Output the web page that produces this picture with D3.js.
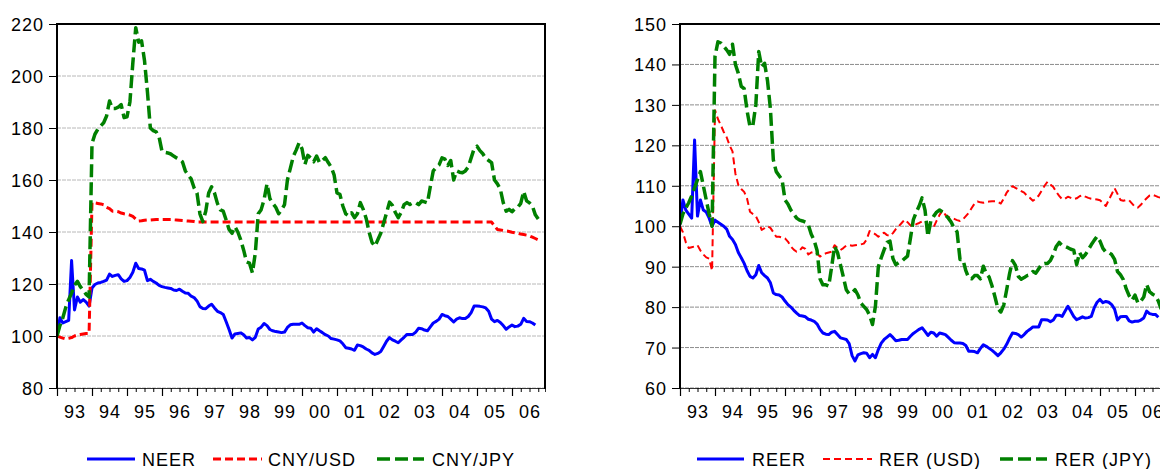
<!DOCTYPE html>
<html><head><meta charset="utf-8">
<script src="https://cdn.jsdelivr.net/npm/d3@7"></script>
<style>
body{margin:0;background:#fff;}
svg{display:block;}
text{font-family:"Liberation Sans",Arial,sans-serif;font-size:18px;letter-spacing:1px;fill:#000;}
</style></head><body><svg id="c" width="1160" height="469"></svg>
<script>
// Monthly data, first observation = January 1993
const startYear = 1993;
const yearLabels = ["93","94","95","96","97","98","99","00","01","02","03","04","05","06"];
const leftTicks = [80,100,120,140,160,180,200,220];
const rightTicks = [60,70,80,90,100,110,120,130,140,150];

const neer = [
100,107,105,105.5,106,129,110,115,113,114,113,111.5,
118.5,119.8,120.4,120.6,121,121.5,123.8,122.9,123.3,123.6,122,121,
121.3,122.5,124.5,128,126,125.8,125.3,121.3,121.8,121,120.4,119.5,
119,118.7,118.5,118.3,117.7,117.5,118,117.2,116.5,116.4,115.3,114.8,
113.5,111.3,110.6,110.5,111.5,112.2,110.8,109.5,109,108.3,105.5,102.5,
99.2,100.8,101,101.2,100.5,99.2,99.4,98.5,99.5,102.7,103.4,104.8,
104,102.5,102,101.7,101.5,101.3,101.5,103.3,104.3,104.5,104.5,104.5,
105,104,103.2,103,101.5,102.8,102,101.3,100.5,100,99,98.8,
98.5,98.1,97,95.5,95.3,95,94.5,96.5,96.3,95.8,95,94.5,
93.5,92.9,93.3,94,96,98,99.4,98.5,98,97.4,98.5,99.5,
100.6,100.6,100.6,101.5,103,102.8,102.3,102,103.5,105,105.6,106.5,
108.3,107.8,107.5,106.5,105.4,106.5,107,106.7,106.7,107.5,109,111.5,
111.5,111.4,111.2,110.8,109.5,106.5,105.5,106,105.2,104,102.6,103.5,
104.2,103.6,103.8,104.5,106.8,105.6,105.5,105,104.2];

const cnyUsd = [
100,99.6,99.2,98.9,99.1,99.4,100,100.4,100.6,100.8,101,101,
151.3,151.2,151,150.8,150.5,149.5,149,148,148,147.8,147.3,147,
146.8,146.5,146,145,144.2,144.3,144.5,144.6,144.6,144.7,144.8,144.8,
144.8,144.8,144.8,144.8,144.7,144.6,144.5,144.4,144.3,144.2,144.1,144,
143.8,143.8,143.8,143.8,143.8,143.8,143.8,143.8,143.8,143.8,143.8,143.8,
143.8,143.8,143.8,143.8,143.8,143.8,143.8,143.8,143.8,143.8,143.8,143.8,
143.8,143.8,143.8,143.8,143.8,143.8,143.8,143.8,143.8,143.8,143.8,143.8,
143.8,143.8,143.8,143.8,143.8,143.8,143.8,143.8,143.8,143.8,143.8,143.8,
143.8,143.8,143.8,143.8,143.8,143.8,143.8,143.8,143.8,143.8,143.8,143.8,
143.8,143.8,143.8,143.8,143.8,143.8,143.8,143.8,143.8,143.8,143.8,143.8,
143.8,143.8,143.8,143.8,143.8,143.8,143.8,143.8,143.8,143.8,143.8,143.8,
143.8,143.8,143.8,143.8,143.8,143.8,143.8,143.8,143.8,143.8,143.8,143.8,
143.8,143.8,143.8,143.8,143.8,143.8,142.3,141,140.8,140.6,140.4,140.2,
139.9,139.7,139.5,139.2,139,138.8,138.5,138,137.5,137,136.5];

const cnyJpy = [
100,104,107,111,114,116.5,119.5,121,119,117.5,116,115,
174,177.6,179.5,180.8,182,184.6,190.4,187.5,187.5,188,189,184,
184.3,190,205,218.6,213,213.5,206,194,180,179,178.5,176.5,
171,170.6,170.4,170,169.2,168.5,168,167,163.5,161.8,160.4,157,
155,147,144,148,155,157.4,155,151,148.5,148,144.6,141,
139.5,142,140,137,133,128.5,128,124.3,132,147,148.6,152.5,
158.5,152.8,151,149.5,147,148.5,150.5,160,164.5,169,171.5,174.3,
172,166,169.5,168.5,167,169.2,166.7,167.5,168.6,166.7,165,162,
155,154.5,150,147,146.2,147.4,145.5,147,151.3,148.7,145.2,140,
136,134.5,137,139.5,143.5,147.4,151.5,150.2,147.5,145.5,147.5,150.5,
151.3,150.6,151.2,151.3,150.5,151.9,151.6,151.2,157.5,163.5,164.8,165.8,
168.5,168,165.6,167.5,160,163.5,163,162.8,163.5,165,168.5,172,
173,171.3,170.1,168.3,167.5,166.7,160,158.5,156.5,151.3,148,148.7,
147.8,149,149.5,151,155.6,152,151.2,150,146.6,145];

const reer = [
100.5,106.5,104,103,102,121.3,102.5,106.5,104,103.5,102,100,
101.5,101,100.5,100,99.3,97.5,96.7,95.5,93.5,92.2,90.8,89,
87.6,87.2,88,90.3,88.5,87.8,87.2,86,83.5,83.1,83,82.5,
81.5,80.6,80,79.2,78.5,77.9,77.8,77.6,77,76.8,76.5,75.8,
74.5,73.6,73.3,73.2,73.8,74,73.2,72.4,72.2,72,71,68,
66.7,68.2,68.5,68.7,68.6,67.5,68.3,67.5,69.5,71.1,72,72.6,
73.2,72.5,71.7,71.8,72,72,72,72.8,73.5,74,74.5,74.9,
74,73,73.8,73.6,72.8,73.6,73.4,73.2,72.5,71.8,71.2,71.1,
71.1,71,70.5,69.1,69.1,69,68.7,69.8,70.7,70.3,69.8,69.3,
68.7,68,68.7,69.6,70.8,72.3,73.6,73.5,73.2,72.6,73.2,74,
74.5,75.1,75.1,75.1,76.9,76.9,76.8,76.4,76.8,78,78,77.7,
79,80.2,79,77.7,76.9,77.2,77.6,77.3,77.4,77.7,79.8,81.2,
81.9,81.1,81.4,81.2,80.6,79.5,76.8,77.6,77.7,77.7,76.6,76.3,
76.5,76.5,76.8,77.3,79,78.4,78.2,78.2,77.5];

const rerUsd = [
100,98.5,96,94.6,94.8,95,95.3,94,93,92.3,92,89,
128.7,126.5,125,123.3,122,120,118.5,113,110.2,109.2,108.5,106.8,
103.6,103,102.5,101,99.1,99.5,100,99.6,98.5,97.4,97.4,97.2,
97,96.2,95,94.2,93.7,94,94.8,94.4,93,93.5,93.7,93.2,
92.5,93,93.3,93.5,93.7,95.3,94.6,94.1,94.6,95.2,95.3,95.2,
95.3,95.4,95.5,95.7,96.7,98.8,98.5,98,97.4,98,98.4,97.8,
97.6,98.3,99.3,100,100.8,101.6,101,100.2,100,100.5,100.8,101.2,
101.2,100.2,99.8,99.8,101.4,102.8,103.9,102.8,102.3,102.1,101.8,101.5,
101.3,101.7,102.5,103.3,104.5,105.6,106.1,105.9,105.8,106,106.1,106.2,
106.2,106,105.6,106.8,108.3,109.2,109.9,109.5,109.1,108.7,108.3,107.5,
107,106.3,106.8,107.6,108.8,110,111,110.3,109.7,108.5,107.5,106.7,
106.8,107.3,107,106.7,106.9,107.4,107.7,107.3,107,106.8,106.7,106.6,
106.4,105.8,105,106.5,107.9,109.4,108,106.5,106.3,106.5,106.4,105.6,
104.8,104.6,105.3,106.2,106.9,107.6,107.8,107.5,107.2,107];

const rerJpy = [
100.5,103,104.5,105.8,107.5,109.5,111.5,113.5,110,106.5,103,100,
142,145.6,145.3,144.5,143.6,142.5,145,140,137.8,134.6,134,128.5,
124.6,125,130,143.2,139.4,140.3,136,129,116.4,113.5,112.5,111.5,
106.5,105.5,104,103,102,101.5,101.3,101,100.3,98,96.5,94,
87,85.5,85.5,85.2,90,95,93.5,90.5,87.5,84.3,83.3,83.5,
84.3,83,81,80.2,79.4,78,75.7,80.2,90,92.2,94.2,96,
96.3,92,90.5,91,91.3,92,92.6,97,101.6,103.5,105,107,
104,97.5,101.3,102.5,103.5,104,103.5,102.8,102,101,99.5,98.6,
91.8,91.8,89,87.2,87,87.8,87.8,87,90.1,88.3,87.4,85.2,
82.5,79.6,78.8,80.5,84.3,88.3,91.5,90.3,87.6,86.9,87.3,87.8,
88,88.8,88.4,89.5,90.6,90.8,90.8,91.5,93,95,96,95.2,
95,94.7,94.3,94.1,90.5,93.5,92.2,93,94.2,95.4,96.5,97.5,
96.3,94.5,93.6,93.5,93,91.8,88.8,88,86.8,84.5,82.8,81.7,
83,81,81.5,82.5,85.6,83.8,83.2,82.8,81.5,79.5];

const leftNames = ["NEER","CNY/USD","CNY/JPY"];
const rightNames = ["REER","RER (USD)","RER (JPY)"];

const svg = d3.select("#c");
const PW = 488, TOP = 24, BOTTOM = 388;

const styles = [
  {color:"#0000ff", width:3, dash:null},
  {color:"#ff0000", width:3, dash:"8,4"},
  {color:"#008000", width:3.5, dash:"13,5"}
];
const stylesR = [
  {color:"#0000ff", width:3, dash:null},
  {color:"#ff0000", width:2, dash:"7,4"},
  {color:"#008000", width:3.5, dash:"13,5"}
];

function panel(x0, yDomain, yTicks, gridColor, seriesList, names, sty, legendPos) {
  const g = svg.append("g");
  const x = d3.scaleLinear().domain([startYear, startYear + PW/35]).range([x0, x0 + PW]);
  const y = d3.scaleLinear().domain(yDomain).range([BOTTOM, TOP]);

  // gridlines
  g.append("g").selectAll("line").data(yTicks).join("line")
    .attr("x1", x0).attr("x2", x0 + PW)
    .attr("y1", d => y(d)).attr("y2", d => y(d))
    .attr("stroke", gridColor).attr("stroke-width", 1)
    .attr("stroke-dasharray", "4,1");

  // y axis
  const ya = g.append("g").attr("transform", `translate(${x0},0)`)
    .call(d3.axisLeft(y).tickValues(yTicks).tickSize(8).tickPadding(5).tickFormat(d3.format("d")));
  ya.select(".domain").remove();
  ya.selectAll("line").attr("stroke", "#000").attr("stroke-width", 1);
  ya.selectAll("text").attr("font-size", null).attr("font-family", null).attr("dy", "0.36em");

  // x axis: quarterly minor ticks, yearly major ticks, labels at mid-year
  const quarters = [], years = [], mids = [];
  for (let yr = startYear; yr < startYear + yearLabels.length; yr++) {
    years.push(yr); mids.push(yr + 0.5);
    for (let q = 0; q < 4; q++) quarters.push(yr + q / 4);
  }
  const xa1 = g.append("g").attr("transform", `translate(0,${BOTTOM})`)
    .call(d3.axisBottom(x).tickValues(quarters).tickSize(4).tickFormat(""));
  xa1.select(".domain").attr("stroke", "#333").attr("stroke-width", 1);
  xa1.selectAll("line").attr("stroke", "#000");
  const xa2 = g.append("g").attr("transform", `translate(0,${BOTTOM})`)
    .call(d3.axisBottom(x).tickValues(years).tickSize(8).tickFormat(""));
  xa2.select(".domain").remove();
  xa2.selectAll("line").attr("stroke", "#000").attr("stroke-width", 1.2);
  const xa3 = g.append("g").attr("transform", `translate(0,${BOTTOM})`)
    .call(d3.axisBottom(x).tickValues(mids).tickSize(0).tickPadding(17)
      .tickFormat((d, i) => yearLabels[i]));
  xa3.select(".domain").remove();
  xa3.selectAll("text").attr("font-size", null).attr("font-family", null);

  // series
  const clipId = "clip" + x0;
  g.append("clipPath").attr("id", clipId).append("rect")
    .attr("x", x0).attr("y", TOP - 5).attr("width", PW).attr("height", BOTTOM - TOP + 10);
  const line = d3.line().x((d, i) => x(startYear + i / 12)).y(d => y(d));
  seriesList.forEach((s, k) => {
    g.append("path").datum(s).attr("d", line)
      .attr("fill", "none").attr("stroke", sty[k].color)
      .attr("stroke-width", sty[k].width)
      .attr("stroke-dasharray", sty[k].dash)
      .attr("stroke-linejoin", "round")
      .attr("clip-path", `url(#${clipId})`);
  });

  // frame: left, top, right
  g.append("path")
    .attr("d", `M${x0},${BOTTOM + 1}V${TOP}H${x0 + PW}V${BOTTOM + 1}`)
    .attr("fill", "none").attr("stroke", "#000").attr("stroke-width", 2);

  // legend
  const lg = g.append("g");
  legendPos.forEach((p, k) => {
    lg.append("line").attr("x1", p[0]).attr("x2", p[1]).attr("y1", 459).attr("y2", 459)
      .attr("stroke", sty[k].color).attr("stroke-width", sty[k].width)
      .attr("stroke-dasharray", sty[k].dash);
    lg.append("text").attr("x", p[2]).attr("y", 465.5).text(names[k]);
  });
}

panel(57, [80, 220], leftTicks, "#b8b8b8", [neer, cnyUsd, cnyJpy], leftNames, styles,
  [[87, 135, 142], [213, 262, 268], [377, 424, 432]]);
panel(680, [60, 150], rightTicks, "#8c8c8c", [reer, rerUsd, rerJpy], rightNames, stylesR,
  [[697, 744, 752], [823, 872, 879], [1000, 1047, 1055]]);
</script></body></html>
